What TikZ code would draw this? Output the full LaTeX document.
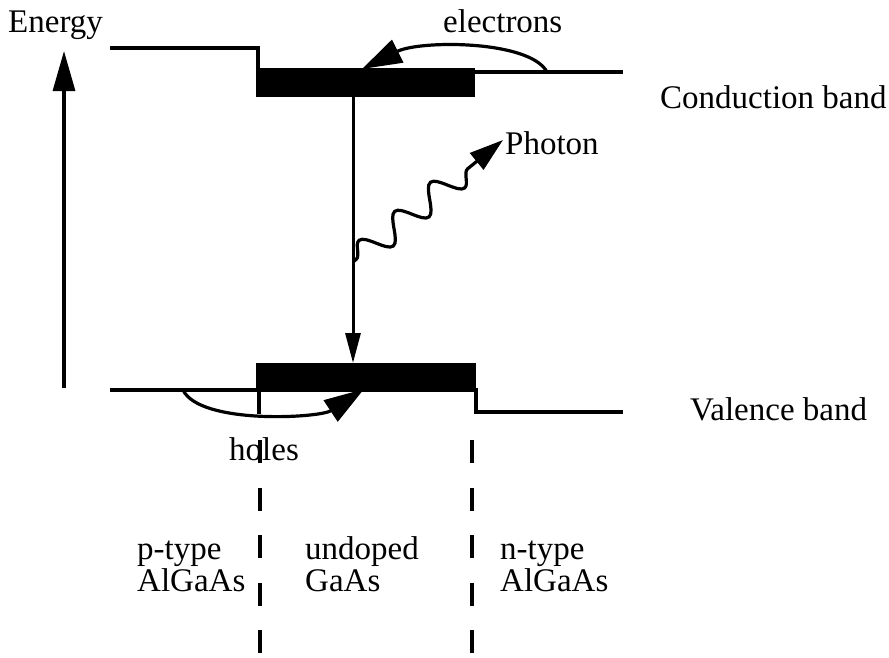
\documentclass[tikz,border=0pt]{standalone}
\usepackage{fontspec}
\setmainfont{Liberation Serif}
\usetikzlibrary{arrows.meta,decorations.pathmorphing,positioning}

\begin{document}
\begin{tikzpicture}[x=1pt, y=-1pt,
  band/.style={line width=4pt},
  gapbox/.style={fill=black},
  arr/.style={line width=3.2pt, -{Triangle[length=40pt, width=22pt]}},
  jump/.style={line width=3pt, -{Triangle[length=30pt, width=15pt]}},
  carrier/.style={line width=3.2pt, -{Triangle[length=40pt, width=25pt]}},
  wave/.style={line width=3.2pt, -{Triangle[length=34pt, width=21pt]},
               decorate, decoration={snake, segment length=46pt,
               amplitude=13pt, pre length=4pt, post length=30pt}},
  divider/.style={line width=3.4pt, dash pattern=on 23pt off 24.5pt},
  lbl/.style={font=\fontsize{33}{32}\selectfont, inner sep=0pt,
              anchor=base west, align=left},
]
  \useasboundingbox (0,0) rectangle (889,657);

  %% ---- energy axis ----
  \coordinate (axisLow) at (64,388);
  \coordinate (axisHigh) at (64,51);
  \draw[arr] (axisLow) -- (axisHigh);
  \node[lbl] (energy) at (8,32) {Energy};

  %% ---- conduction band ----
  \draw[band] (110,48) -| (258,72) -- (623,72);
  \fill[gapbox] (256,68) rectangle (475,97);
  \node[lbl] (cband) at (660,108) {Conduction band};

  %% ---- valence band ----
  \draw[band] (110,390) -- (476,390) -- (476,412) -- (623,412);
  \fill[gapbox] (256,363) rectangle (476,391);
  \draw[band] (259,390) -- (259,414);
  \node[lbl] (vband) at (690,420) {Valence band};

  %% ---- carriers ----
  \coordinate (eStart) at (547,72);
  \coordinate (eEnd) at (362,69);
  \draw[carrier] (eStart) .. controls (530,40) and (420,40) .. (eEnd);
  \node[lbl] (elec) at (443,32) {electrons};

  \coordinate (hStart) at (183,390);
  \coordinate (hEnd) at (364,389);
  \draw[carrier] (hStart) .. controls (200,425) and (320,418) .. (hEnd);
  \node[lbl] (holes) at (229,460) {holes};

  %% ---- recombination and photon ----
  \coordinate (cBottom) at (353,97);
  \coordinate (vTop) at (353,363);
  \draw[jump] (cBottom) -- (vTop);

  \coordinate (phStart) at (353,262);
  \coordinate (phEnd) at (503,140);
  \draw[wave] (phStart) -- (phEnd);
  \node[lbl] (photon) at (505,154) {Photon};

  %% ---- layer boundaries ----
  \draw[divider] (260,440) -- (260,657);
  \draw[divider] (472,440) -- (472,657);

  \node[lbl] (pside) at (137,591) {p-type\\AlGaAs};
  \node[lbl] (mid) at (305,591) {undoped\\GaAs};
  \node[lbl] (nside) at (500,591) {n-type\\AlGaAs};
\end{tikzpicture}
\end{document}
